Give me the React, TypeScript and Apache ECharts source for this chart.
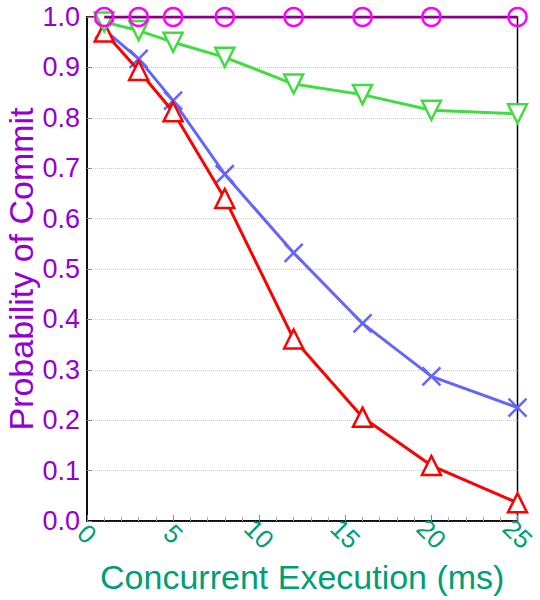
import React, { useEffect, useRef } from "react";
import * as echarts from "echarts";

const xValues = [1, 3, 5, 8, 12, 16, 20, 25];
const circleSeries = [1, 1, 1, 1, 1, 1, 1, 1];
const greenSeries = [0.99, 0.973, 0.95, 0.92, 0.867, 0.846, 0.815, 0.808];
const blueSeries = [0.975, 0.917, 0.834, 0.688, 0.532, 0.392, 0.287, 0.225];
const redSeries = [0.97, 0.894, 0.812, 0.64, 0.361, 0.206, 0.11, 0.036];

const FONT = "'Liberation Sans', Arial, Helvetica, sans-serif";
const PURPLE = "#9400d3";
const TEAL = "#009e73";

const pair = (ys: number[]) => xValues.map((x, i) => [x, ys[i]]);

export default function App() {
  const ref = useRef<HTMLDivElement>(null);
  useEffect(() => {
    document.body.style.margin = "0";
    if (!ref.current) return;
    const chart = echarts.init(ref.current, undefined, { renderer: "svg" });
    chart.setOption({
      animation: false,
      backgroundColor: "#ffffff",
      textStyle: { fontFamily: FONT },
      grid: {
        left: 87,
        right: 22.5,
        top: 17,
        bottom: 79,
        containLabel: false,
        outerBoundsMode: "none",
        show: true,
        borderColor: "#000",
        borderWidth: 1.5,
        backgroundColor: "transparent",
      },
      xAxis: {
        type: "value",
        min: 0,
        max: 25,
        interval: 5,
        name: "Concurrent Execution (ms)",
        nameLocation: "middle",
        nameGap: 28,
        nameTextStyle: { color: TEAL, fontSize: 34, fontFamily: FONT },
        axisLine: { show: true, lineStyle: { color: "#000", width: 1.5 } },
        axisTick: { show: true, inside: true, length: 6, lineStyle: { color: "#888" } },
        minorTick: { show: true, splitNumber: 5, length: 4, lineStyle: { color: "#aaa" } },
        splitLine: { show: false },
        axisLabel: {
          color: TEAL,
          fontSize: 26,
          fontFamily: FONT,
          rotate: -45,
          align: "center",
          verticalAlign: "middle",
          margin: 13,
        },
      },
      yAxis: {
        type: "value",
        min: 0,
        max: 1,
        interval: 0.1,
        name: "Probability of Commit",
        nameLocation: "middle",
        nameMoveOverlap: false,
        nameGap: 49,
        nameTextStyle: { color: PURPLE, fontSize: 34, lineHeight: 34, fontFamily: FONT },
        axisLine: { show: true, lineStyle: { color: "#000", width: 1.5 } },
        axisTick: { show: true, inside: true, length: 5, lineStyle: { color: "#888" } },
        splitLine: { show: true, lineStyle: { color: "#cccccc", type: "dotted", width: 1 } },
        axisLabel: {
          color: PURPLE,
          fontSize: 27,
          fontFamily: FONT,
          margin: 7,
          formatter: (v: number) => v.toFixed(1),
        },
      },
      series: [
        {
          type: "line",
          data: pair(redSeries),
          symbol: "triangle",
          symbolSize: 19,
          lineStyle: { color: "#ff0000", width: 3 },
          itemStyle: { color: "#ffffff", borderColor: "#ff0000", borderWidth: 2.5 },
          z: 3,
        },
        {
          type: "line",
          data: pair(blueSeries),
          symbol: "path://M0,0L10,10M10,0L0,10",
          symbolSize: 18,
          lineStyle: { color: "#6464ff", width: 3 },
          itemStyle: { color: "none", borderColor: "#6464ff", borderWidth: 2.5 },
          z: 2,
        },
        {
          type: "line",
          data: pair(greenSeries),
          symbol: "triangle",
          symbolRotate: 180,
          symbolSize: 19,
          lineStyle: { color: "#40dd40", width: 3 },
          itemStyle: { color: "#ffffff", borderColor: "#40dd40", borderWidth: 2.5 },
          z: 4,
        },
        {
          type: "line",
          data: pair(circleSeries),
          symbol: "circle",
          symbolSize: 18,
          lineStyle: { color: "#880088", width: 3 },
          itemStyle: { color: "none", borderColor: "#ff00ff", borderWidth: 2.5 },
          z: 5,
        },
      ],
    });
    return () => chart.dispose();
  }, []);
  return <div ref={ref} style={{ width: 540, height: 600 }} />;
}
